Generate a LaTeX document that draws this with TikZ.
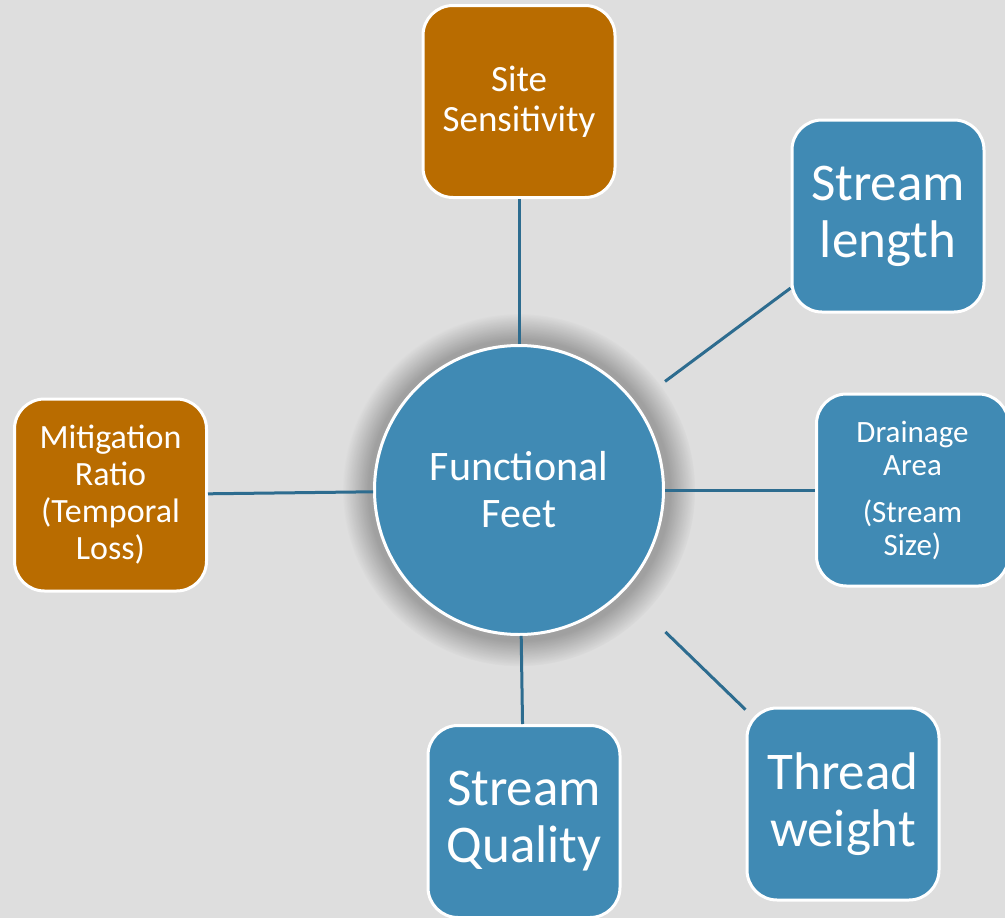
\documentclass[tikz,border=0pt]{standalone}
\usepackage{fontspec}
\setmainfont{Carlito}
\usepackage{xcolor}
\usepackage{tikz}
\usetikzlibrary{positioning,shadows}
\definecolor{hubblue}{RGB}{64,138,180}
\definecolor{rustbrown}{RGB}{185,108,0}
\definecolor{spokeblue}{RGB}{45,108,143}
\definecolor{backdrop}{RGB}{222,222,222}

\begin{document}
\begin{tikzpicture}[
    x=1pt,y=-1pt,
    card/.style={draw=white,line width=3pt,rounded corners=30pt,align=center,text=white,minimum width=192pt,minimum height=192pt,inner sep=0pt},
    bluecard/.style={card,fill=hubblue},
    rustcard/.style={card,fill=rustbrown},
    hub/.style={circle,draw=white,line width=3pt,fill=hubblue,align=center,text=white,minimum size=289pt,font=\fontsize{42}{47}\selectfont},
    link/.style={draw=spokeblue,line width=3pt},
    bigtext/.style={font=\fontsize{53}{57}\selectfont},
    midtext/.style={font=\fontsize{37}{40}\selectfont},
    smalltext/.style={font=\fontsize{34}{37}\selectfont},
    tinytext/.style={font=\fontsize{31}{33}\selectfont}
  ]
    \fill[backdrop] (0,0) rectangle (1005,918);
    \useasboundingbox (0,0) rectangle (1005,918);

    \node[hub,circular glow={fill=black,opacity=0.28,shadow scale=1.22,draw=none}] (ff) at (519,490) {Functional\\Feet};
    \node[rustcard,midtext,above=145pt of ff] (site) {Site\\Sensitivity};
    \node[bluecard,bigtext] (len) at (888,216) {Stream\\length};
    \node[bluecard,tinytext,right=150pt of ff] (area) {Drainage\\Area\\[14pt](Stream\\Size)};
    \node[bluecard,bigtext] (thread) at (843,804) {Thread\\weight};
    \node[bluecard,bigtext,below=88pt of ff,xshift=5pt] (quality) {Stream\\Quality};
    \node[rustcard,smalltext,left=162pt of ff,xshift=-3pt,yshift=-5pt] (ratio) {Mitigation\\Ratio\\(Temporal\\Loss)};

    \draw[link] (ff) -- (site);
    \draw[link,shorten <=36pt] (ff) -- (len);
    \draw[link] (ff) -- (area);
    \draw[link,shorten <=58pt] (ff) -- (thread);
    \draw[link] (ff) -- (quality);
    \draw[link] (ff) -- (ratio);
  \end{tikzpicture}
\end{document}
